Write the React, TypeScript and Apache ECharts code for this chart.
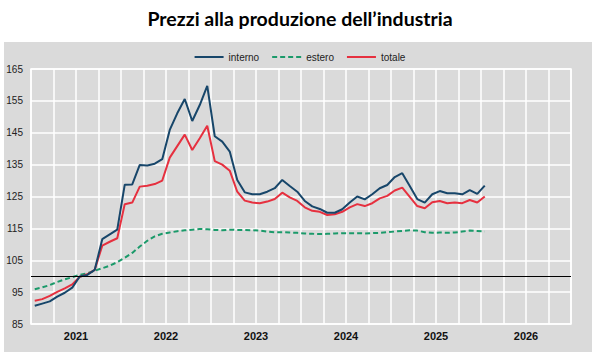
import React, { useEffect, useRef } from "react";
import * as echarts from "echarts";

const years = ["2021", "2022", "2023", "2024", "2025", "2026"];
const monthNames = ["gen", "feb", "mar", "apr", "mag", "giu", "lug", "ago", "set", "ott", "nov", "dic"];
const months = years.flatMap((y) => monthNames.map((m) => `${m} ${y}`));
const yTicks = [85, 95, 105, 115, 125, 135, 145, 155, 165];

const interno = [
  90.7, 91.4, 92.1, 93.6, 94.8, 96.4, 99.9, 100.4, 102.0, 111.6, 113.1, 114.6,
  128.7, 128.8, 134.9, 134.7, 135.3, 136.7, 145.9, 151.1, 155.6, 148.7, 153.7, 159.7,
  143.9, 142.2, 139.1, 130.2, 126.3, 125.7, 125.7, 126.5, 127.6, 130.2, 128.3, 126.5,
  123.6, 121.9, 121.1, 119.9, 119.9, 121.0, 123.1, 125.0, 124.1, 125.7, 127.6, 128.6,
  131.1, 132.3, 128.3, 124.2, 123.1, 125.7, 126.7, 126.0, 126.0, 125.7, 127.0, 125.8,
  128.4,
];
const estero = [
  95.9, 96.5, 97.2, 98.2, 99.0, 99.7, 100.4, 100.9, 101.7, 102.5, 103.3, 104.4,
  105.8, 107.3, 109.3, 111.1, 112.5, 113.3, 113.7, 114.1, 114.4, 114.6, 114.8, 114.7,
  114.5, 114.4, 114.6, 114.5, 114.5, 114.4, 114.3, 114.0, 113.8, 113.8, 113.7, 113.6,
  113.4, 113.3, 113.2, 113.3, 113.4, 113.5, 113.5, 113.5, 113.4, 113.5, 113.6, 113.8,
  114.0, 114.2, 114.4, 114.3, 113.8, 113.6, 113.7, 113.6, 113.7, 114.0, 114.3, 114.2,
  114.0,
];
const totale = [
  92.3, 92.8, 93.8, 95.1, 96.2, 97.4, 99.8, 100.6, 102.0, 109.6, 110.8, 111.9,
  122.6, 123.1, 128.1, 128.4, 128.9, 130.0, 137.2, 140.8, 144.4, 139.6, 143.3, 147.2,
  136.1, 135.0, 133.1, 126.5, 123.7, 123.1, 122.9, 123.4, 124.2, 126.2, 124.7, 123.6,
  121.6, 120.5, 120.2, 119.2, 119.4, 120.2, 121.6, 122.6, 122.0, 122.9, 124.4, 125.2,
  126.9, 127.8, 124.9, 122.0, 121.3, 123.2, 123.6, 122.9, 123.1, 122.9, 123.9, 123.1,
  125.0,
];

const SANS = "'Liberation Sans', Arial, sans-serif";
const DASH_ICON = "path://M0 0H5V2H0Z M8 0H13V2H8Z M16 0H21V2H16Z M24 0H29V2H24Z";

export default function App() {
  const ref = useRef<HTMLDivElement>(null);
  useEffect(() => {
    document.body.style.margin = "0";
    if (!ref.current) return;
    const chart = echarts.init(ref.current, null, { renderer: "svg" });
    chart.setOption({
      animation: false,
      backgroundColor: "#ffffff",
      title: {
        text: "Prezzi alla produzione dell’industria",
        left: "center",
        top: 3,
        textStyle: { fontFamily: "Lato, 'Open Sans', sans-serif", fontSize: 19.5, fontWeight: "bold", color: "#000" },
      },
      graphic: [
        {
          type: "rect",
          left: 4,
          top: 42,
          z: -10,
          silent: true,
          shape: { width: 588, height: 310 },
          style: { fill: "#dadada" },
        },
      ],
      legend: {
        top: 52,
        left: "center",
        padding: 0,
        itemWidth: 29,
        itemHeight: 2,
        itemGap: 13,
        textStyle: { fontFamily: SANS, fontSize: 10, color: "#222" },
        data: [
          { name: "interno", icon: "rect" },
          { name: "estero", icon: DASH_ICON },
          { name: "totale", icon: "rect" },
        ],
      },
      grid: {
        left: 31,
        right: 29,
        top: 69,
        bottom: 36,
        show: true,
        borderColor: "#ffffff",
        borderWidth: 1.5,
        backgroundColor: "transparent",
      },
      xAxis: [
        {
          type: "category",
          data: months,
          boundaryGap: true,
          axisLine: { show: false },
          axisTick: { show: false },
          axisLabel: { show: false },
          splitLine: {
            show: true,
            interval: (i: number) => i % 3 === 0,
            lineStyle: { color: "#ffffff", width: 1.5 },
          },
        },
        {
          type: "category",
          data: years,
          position: "bottom",
          boundaryGap: true,
          axisLine: { show: false },
          axisTick: { show: false },
          splitLine: { show: false },
          axisLabel: { margin: 6, fontFamily: SANS, fontSize: 11, fontWeight: "bold", color: "#111" },
        },
      ],
      yAxis: {
        type: "value",
        min: yTicks[0],
        max: yTicks[yTicks.length - 1],
        interval: 10,
        axisLine: { show: false },
        axisTick: { show: false },
        axisLabel: { margin: 8, fontFamily: SANS, fontSize: 10, color: "#222" },
        splitLine: { show: true, lineStyle: { color: "#ffffff", width: 1.5 } },
      },
      series: [
        {
          name: "interno",
          type: "line",
          data: interno,
          symbol: "none",
          lineStyle: { color: "#17466a", width: 2 },
          itemStyle: { color: "#17466a" },
          z: 4,
          markLine: {
            silent: true,
            symbol: "none",
            label: { show: false },
            lineStyle: { color: "#000", width: 1.2, type: "solid" },
            data: [{ yAxis: 100 }],
          },
        },
        {
          name: "estero",
          type: "line",
          data: estero,
          symbol: "none",
          lineStyle: { color: "#1b9a6a", width: 2, type: [5, 3] },
          itemStyle: { color: "#1b9a6a" },
          z: 3,
        },
        {
          name: "totale",
          type: "line",
          data: totale,
          symbol: "none",
          lineStyle: { color: "#e6303f", width: 2 },
          itemStyle: { color: "#e6303f" },
          z: 3,
        },
      ],
    });
    return () => chart.dispose();
  }, []);
  return <div ref={ref} style={{ width: 600, height: 360 }} />;
}
